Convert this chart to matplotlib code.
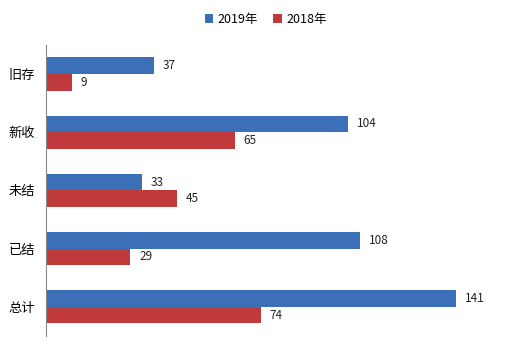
import numpy as np
import matplotlib
matplotlib.use("Agg")
import matplotlib.pyplot as plt

plt.rcParams['font.family'] = ['Noto Sans CJK SC', 'DejaVu Sans']

categories = ["旧存", "新收", "未结", "已结", "总计"]
values_2019 = [37, 104, 33, 108, 141]
values_2018 = [9, 65, 45, 29, 74]
series_names = ["2019年", "2018年"]

blue = "#3b6fb8"
red = "#c0393b"

fig = plt.figure(figsize=(5.26, 3.51), dpi=100)
ax = fig.add_axes([0.0875, 0.043, 0.884, 0.829])

y = np.arange(len(categories))
h = 0.285
ax.barh(y - h / 2, values_2019, height=h, color=blue, label=series_names[0])
ax.barh(y + h / 2, values_2018, height=h, color=red, label=series_names[1])

for yi, v in zip(y, values_2019):
    ax.text(v + 3, yi - h / 2, str(v), va="center", ha="left", fontsize=8.5, color="#222222")
for yi, v in zip(y, values_2018):
    ax.text(v + 3, yi + h / 2, str(v), va="center", ha="left", fontsize=8.5, color="#222222")

ax.set_ylim(len(categories) - 0.5, -0.5)
ax.set_xlim(0, 160)
ax.set_yticks(y)
ax.set_yticklabels(categories, fontsize=9.5)
ax.set_xticks([])
ax.tick_params(axis="y", length=0, pad=8)
for s in ["top", "right", "bottom"]:
    ax.spines[s].set_visible(False)
ax.spines["left"].set_color("#888888")
ax.spines["left"].set_linewidth(0.8)

fig.legend(loc="center", bbox_to_anchor=(0.505, 0.945), ncol=2, frameon=False,
           fontsize=9, handlelength=0.7, handleheight=0.7, handletextpad=0.35,
           columnspacing=1.2)

fig.savefig("out.png", dpi=100)
